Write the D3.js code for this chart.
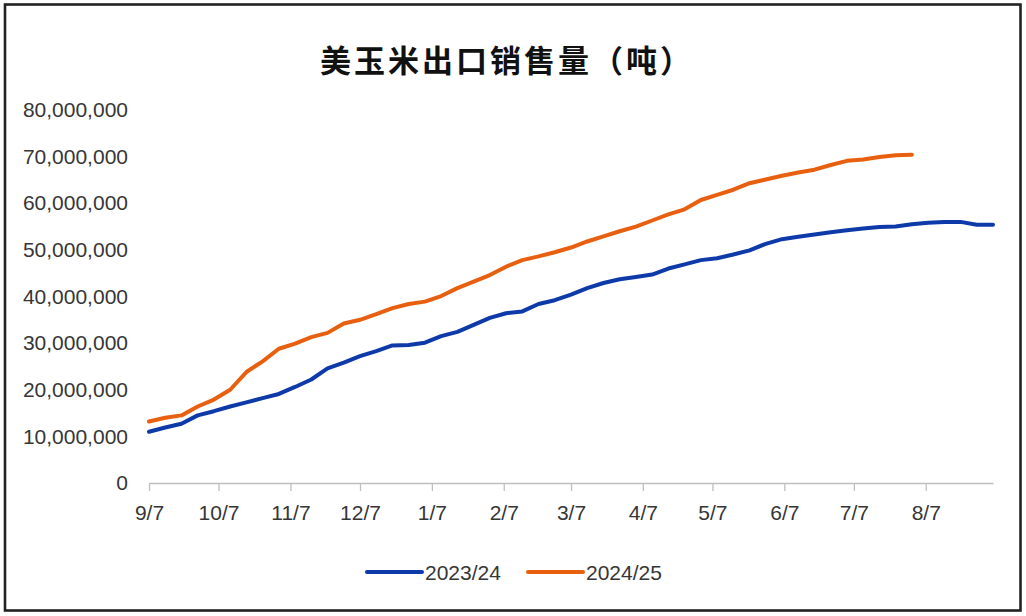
<!DOCTYPE html>
<html>
<head>
<meta charset="utf-8">
<script src="https://cdn.jsdelivr.net/npm/d3@7"></script>
<style>
  html, body { margin: 0; padding: 0; background: #fff; }
  svg { display: block; }
</style>
</head>
<body>
<svg id="chart" width="1026" height="616"></svg>
<script>
// ---------- data ----------
const title = "美玉米出口销售量（吨）";
const seriesNames = ["2023/24", "2024/25"];
const weekDates = [
  "2023-09-07","2023-09-14","2023-09-21","2023-09-28","2023-10-05","2023-10-12","2023-10-19","2023-10-26",
  "2023-11-02","2023-11-09","2023-11-16","2023-11-23","2023-11-30","2023-12-07","2023-12-14","2023-12-21",
  "2023-12-28","2024-01-04","2024-01-11","2024-01-18","2024-01-25","2024-02-01","2024-02-08","2024-02-15",
  "2024-02-22","2024-02-29","2024-03-07","2024-03-14","2024-03-21","2024-03-28","2024-04-04","2024-04-11",
  "2024-04-18","2024-04-25","2024-05-02","2024-05-09","2024-05-16","2024-05-23","2024-05-30","2024-06-06",
  "2024-06-13","2024-06-20","2024-06-27","2024-07-04","2024-07-11","2024-07-18","2024-07-25","2024-08-01",
  "2024-08-08","2024-08-15","2024-08-22","2024-08-29","2024-09-05"
];
const sales2023 = [
  11000000,11900000,12700000,14500000,15400000,16400000,17300000,18200000,
  19100000,20600000,22200000,24600000,25800000,27200000,28300000,29500000,
  29600000,30100000,31500000,32400000,33900000,35400000,36400000,36800000,
  38400000,39200000,40400000,41800000,42900000,43700000,44200000,44700000,
  46000000,46900000,47800000,48200000,49000000,49900000,51300000,52300000,
  52800000,53300000,53800000,54200000,54600000,54900000,55000000,55500000,
  55800000,56000000,56000000,55400000,55400000
];
const sales2024 = [
  13200000,14000000,14500000,16400000,17900000,20000000,23800000,26100000,
  28800000,29900000,31300000,32200000,34200000,35000000,36200000,37500000,
  38400000,38900000,40100000,41800000,43200000,44600000,46400000,47800000,
  48600000,49500000,50500000,51800000,52900000,54000000,55000000,56300000,
  57600000,58700000,60700000,61800000,62900000,64300000,65100000,65900000,
  66600000,67200000,68200000,69100000,69400000,69900000,70300000,70400000
];
const tickDates = ["2023-09-07","2023-10-07","2023-11-07","2023-12-07","2024-01-07","2024-02-07",
                   "2024-03-07","2024-04-07","2024-05-07","2024-06-07","2024-07-07","2024-08-07"];
const tickLabels = ["9/7","10/7","11/7","12/7","1/7","2/7","3/7","4/7","5/7","6/7","7/7","8/7"];
const yTicks = [0,10000000,20000000,30000000,40000000,50000000,60000000,70000000,80000000];
const colors = ["#0e3aa9", "#e8600f"];

// ---------- chart ----------
const parse = d3.timeParse("%Y-%m-%d");
const dates = weekDates.map(parse);
const svg = d3.select("#chart");
const m = { left: 149, right: 993, top: 110, bottom: 483 };
const font = "'Liberation Sans', Arial, sans-serif";
const textColor = "#363636";
const fs = "21px";

// outer frame
svg.append("rect").attr("x", 5).attr("y", 4.5).attr("width", 1015.5).attr("height", 606)
  .attr("fill", "#fff").attr("stroke", "#222").attr("stroke-width", 2.6);

// title
svg.append("text").attr("x", 507).attr("y", 58)
  .attr("text-anchor", "middle").attr("dominant-baseline", "central")
  .style("font-family", "'Noto Sans CJK SC', sans-serif").style("font-weight", 700)
  .style("font-size", "31px").style("letter-spacing", "3px").attr("fill", "#111")
  .text(title);

const x = d3.scaleTime().domain([dates[0], dates[dates.length - 1]]).range([m.left, m.right]);
const y = d3.scaleLinear().domain([0, 80000000]).range([m.bottom, m.top]);

// y axis (labels only)
const yAxis = svg.append("g").attr("transform", `translate(${m.left},0)`)
  .call(d3.axisLeft(y).tickValues(yTicks).tickFormat(d3.format(",")).tickSize(0).tickPadding(21));
yAxis.select(".domain").remove();
yAxis.selectAll("text").style("font-family", font).style("font-size", fs).attr("fill", textColor);

// x axis
const xAxis = svg.append("g").attr("transform", `translate(0,${m.bottom})`)
  .call(d3.axisBottom(x).tickValues(tickDates.map(parse))
    .tickFormat((d, i) => tickLabels[i]).tickSizeInner(8).tickSizeOuter(0).tickPadding(14));
xAxis.select(".domain").attr("stroke", "#bfbfbf").attr("stroke-width", 1.3);
xAxis.selectAll(".tick line").attr("stroke", "#bfbfbf").attr("stroke-width", 1.3);
xAxis.selectAll("text").style("font-family", font).style("font-size", fs).attr("fill", textColor);

// lines
const line = d3.line().x((d, i) => x(dates[i])).y(d => y(d));
[sales2023, sales2024].forEach((s, k) => {
  svg.append("path").datum(s).attr("d", line)
    .attr("fill", "none").attr("stroke", colors[k]).attr("stroke-width", 4)
    .attr("stroke-linejoin", "round").attr("stroke-linecap", "round");
});

// legend
const legendItems = [{ x: 367, tx: 425 }, { x: 528, tx: 586 }];
legendItems.forEach((p, k) => {
  svg.append("line").attr("x1", p.x).attr("x2", p.x + 55).attr("y1", 572).attr("y2", 572)
    .attr("stroke", colors[k]).attr("stroke-width", 4).attr("stroke-linecap", "round");
  svg.append("text").attr("x", p.tx).attr("y", 572).attr("dominant-baseline", "central")
    .style("font-family", font).style("font-size", fs).attr("fill", textColor)
    .text(seriesNames[k]);
});
</script>
</body>
</html>
